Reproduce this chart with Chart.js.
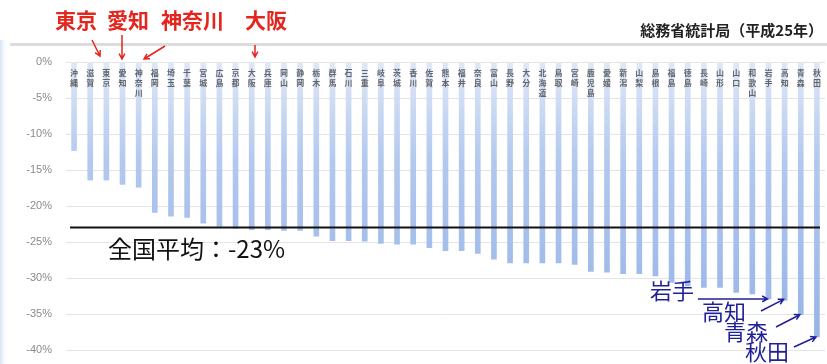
<!DOCTYPE html>
<html>
<head>
<meta charset="utf-8">
<script src="https://cdn.jsdelivr.net/npm/chart.js@4"></script>
<style>
  html, body { margin: 0; padding: 0; background: #fff; }
  #wrap { position: relative; width: 827px; height: 364px; }
</style>
</head>
<body>
<div id="wrap"><canvas id="popChart" width="827" height="364"></canvas></div>
<script>
// prefectures, left to right (smallest decrease first)
const prefectures = [
    "沖縄", "滋賀", "東京", "愛知", "神奈川", "福岡", "埼玉", "千葉", "宮城", "広島",
    "京都", "大阪", "兵庫", "岡山", "静岡", "栃木", "群馬", "石川", "三重", "岐阜",
    "茨城", "香川", "佐賀", "熊本", "福井", "奈良", "富山", "長野", "大分", "北海道",
    "鳥取", "宮崎", "鹿児島", "愛媛", "新潟", "山梨", "島根", "福島", "徳島", "長崎",
    "山形", "山口", "和歌山", "岩手", "高知", "青森", "秋田"
];
// rate of change (%)
const changeRate = [
    -12.3, -16.4, -16.4, -17.0, -17.4, -20.9, -21.4, -21.6, -22.4, -22.8,
    -23.1, -23.3, -23.3, -23.4, -23.4, -24.2, -24.8, -24.8, -24.9, -25.2,
    -25.3, -25.3, -25.8, -26.2, -26.2, -26.6, -27.4, -27.9, -27.9, -27.9,
    -27.9, -28.1, -29.1, -29.2, -29.4, -29.4, -29.7, -30.6, -31.1, -31.3,
    -31.3, -32.0, -32.2, -32.9, -33.1, -35.1, -38.2
];
const yTicks = [0, -5, -10, -15, -20, -25, -30, -35, -40];
const nationalAverage = -23;
const sourceNote = "総務省統計局（平成25年）";

const redNotes = [
    { text: "東京", x: 55, y: 20 },
    { text: "愛知", x: 107, y: 20 },
    { text: "神奈川", x: 161, y: 20 },
    { text: "大阪", x: 245, y: 20 }
];
const blueNotes = [
    { text: "岩手", x: 650, y: 291 },
    { text: "高知", x: 702, y: 312 },
    { text: "青森", x: 724, y: 332 },
    { text: "秋田", x: 745, y: 352 }
];

const JP = "'Noto Sans CJK JP', 'Noto Sans', sans-serif";

function arrow(ctx, x1, y1, x2, y2, head) {
    const a = Math.atan2(y2 - y1, x2 - x1);
    ctx.beginPath();
    ctx.moveTo(x1, y1);
    ctx.lineTo(x2, y2);
    ctx.moveTo(x2 - head * Math.cos(a - 0.5), y2 - head * Math.sin(a - 0.5));
    ctx.lineTo(x2, y2);
    ctx.lineTo(x2 - head * Math.cos(a + 0.5), y2 - head * Math.sin(a + 0.5));
    ctx.stroke();
}

const decorPlugin = {
    id: "decor",
    beforeDraw(chart) {
        const ctx = chart.ctx;
        ctx.save();
        ctx.fillStyle = "#fff";
        ctx.fillRect(0, 0, chart.width, chart.height);
        // left tint
        const g = ctx.createLinearGradient(0, 0, 8, 0);
        g.addColorStop(0, "#d6e4f3");
        g.addColorStop(1, "rgba(255,255,255,0)");
        ctx.fillStyle = g;
        ctx.fillRect(0, 40, 8, chart.height - 40);
        // top separator
        ctx.fillStyle = "#dcdcdc";
        ctx.fillRect(10, 43, chart.width - 10, 3);
        ctx.restore();
    },
    afterDatasetsDraw(chart) {
        const ctx = chart.ctx;
        const x = chart.scales.x, y = chart.scales.y;
        const area = chart.chartArea;
        ctx.save();

        // vertical prefecture names
        ctx.fillStyle = "rgba(70,70,70,0.8)";
        ctx.font = "bold 8px " + JP;
        ctx.textAlign = "center";
        ctx.textBaseline = "top";
        prefectures.forEach((p, i) => {
            const px = x.getPixelForValue(i);
            [...p].forEach((ch, k) => ctx.fillText(ch, px, area.top + 7 + k * 10));
        });

        // national average line
        const ay = y.getPixelForValue(nationalAverage);
        ctx.strokeStyle = "#111";
        ctx.lineWidth = 2;
        ctx.beginPath();
        ctx.moveTo(area.left + 4, ay);
        ctx.lineTo(area.right - 5, ay);
        ctx.stroke();
        ctx.fillStyle = "#111";
        ctx.font = "24px " + JP;
        ctx.textAlign = "left";
        ctx.textBaseline = "middle";
        ctx.fillText("全国平均：-23%", 108, ay + 21);

        // source
        ctx.fillStyle = "#222";
        ctx.font = "bold 15px " + JP;
        ctx.textAlign = "right";
        ctx.fillText(sourceNote, 823, 30);

        // red notes
        ctx.fillStyle = "#e4261e";
        ctx.strokeStyle = "#e4261e";
        ctx.lineWidth = 1.5;
        ctx.font = "bold 21px " + JP;
        ctx.textAlign = "left";
        redNotes.forEach(n => ctx.fillText(n.text, n.x, n.y));
        arrow(ctx, 92, 40, 100, 56, 6);
        arrow(ctx, 122, 35, 122, 59, 6);
        arrow(ctx, 165, 46, 144, 59, 6);
        arrow(ctx, 255, 45, 255, 57, 6);

        // blue notes
        ctx.fillStyle = "#1f1f9a";
        ctx.strokeStyle = "#1f1f9a";
        ctx.font = "22px " + JP;
        blueNotes.forEach(n => ctx.fillText(n.text, n.x, n.y));
        const tip = name => {
            const i = prefectures.indexOf(name);
            return [x.getPixelForValue(i) - 1, y.getPixelForValue(changeRate[i])];
        };
        let t = tip("岩手");
        arrow(ctx, 698, t[1], t[0], t[1], 6);
        t = tip("高知");
        arrow(ctx, 761, 311, t[0], t[1] - 1, 6);
        t = tip("青森");
        arrow(ctx, 776, 327, t[0], t[1], 6);
        t = tip("秋田");
        arrow(ctx, 794, 347, t[0], t[1], 6);

        ctx.restore();
    }
};

const ctx = document.getElementById("popChart").getContext("2d");

new Chart(ctx, {
    type: "bar",
    data: {
        labels: prefectures,
        datasets: [{
            data: changeRate,
            backgroundColor: (c) => {
                const area = c.chart.chartArea;
                if (!area) return "#a9c2ec";
                const g = c.chart.ctx.createLinearGradient(0, area.top, 0, area.bottom);
                g.addColorStop(0, "#dfe8f7");
                g.addColorStop(0.35, "#b2c8ee");
                g.addColorStop(1, "#95b2e6");
                return g;
            },
            borderWidth: 0,
            barThickness: 5
        }]
    },
    options: {
        responsive: false,
        animation: false,
        layout: {
            padding: { top: 62, bottom: 14, left: 10, right: 2 }
        },
        scales: {
            x: {
                display: false
            },
            y: {
                min: -40,
                max: 0,
                afterFit: (s) => { s.width = 56; },
                afterBuildTicks: (s) => { s.ticks = yTicks.map(v => ({ value: v })); },
                ticks: {
                    color: "#8a8a8a",
                    padding: 4,
                    font: { size: 11, family: "'Liberation Sans', sans-serif" },
                    callback: (v) => v + "%"
                },
                grid: {
                    color: "#e4e4e4",
                    drawTicks: true,
                    tickLength: 10,
                    tickColor: "rgba(0,0,0,0)"
                },
                border: { display: false }
            }
        },
        plugins: {
            legend: { display: false },
            tooltip: { enabled: false }
        }
    },
    plugins: [decorPlugin]
});
</script>
</body>
</html>
